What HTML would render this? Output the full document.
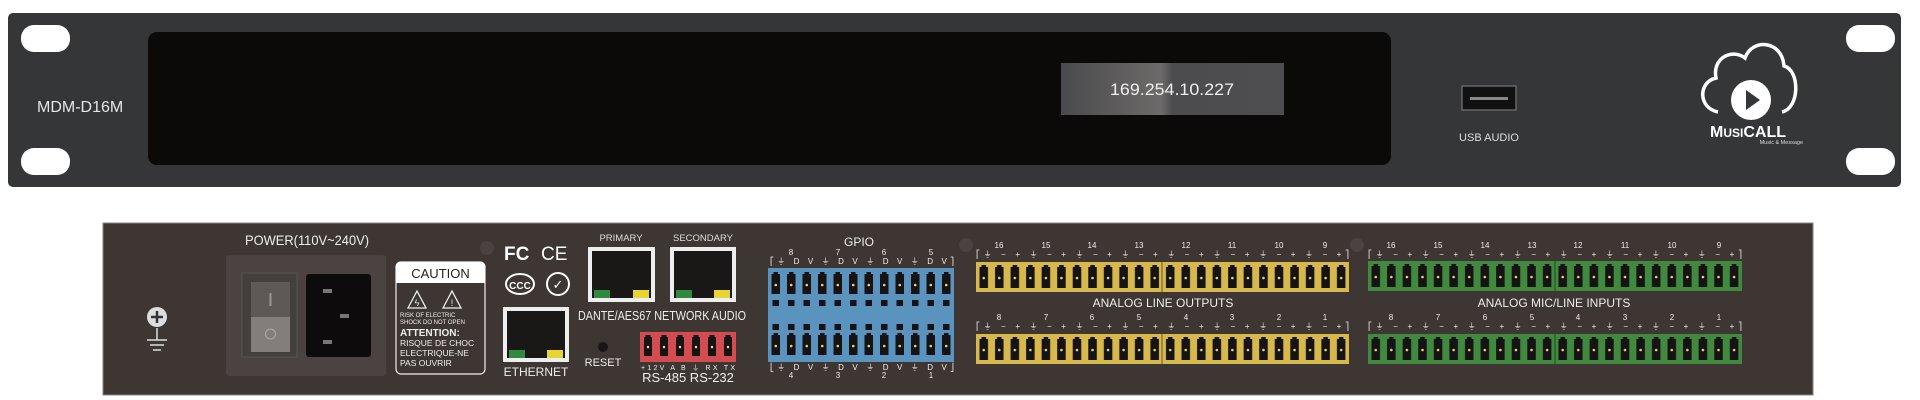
<!DOCTYPE html>
<html><head><meta charset="utf-8"><style>
html,body{margin:0;padding:0;background:#fff;width:1920px;height:400px;overflow:hidden}
svg{display:block}
text{font-family:"Liberation Sans",sans-serif}
</style></head><body>
<svg width="1920" height="400" viewBox="0 0 1920 400" xmlns="http://www.w3.org/2000/svg">
<defs>
<linearGradient id="scr" x1="0" x2="1" y1="0" y2="0">
<stop offset="0" stop-color="#4a4a4c"/><stop offset="0.45" stop-color="#6d6a69"/><stop offset="0.5" stop-color="#4c4c4e"/><stop offset="1" stop-color="#4e4e50"/>
</linearGradient>
<pattern id="pinY" x="976" y="262" width="15.54" height="30" patternUnits="userSpaceOnUse">
<rect x="3.5" y="5" width="8.5" height="21" fill="#151313"/><rect x="5.5" y="3" width="4.5" height="3" fill="#151313"/><circle cx="7.75" cy="16" r="1.3" fill="#e8d27a"/></pattern>
<pattern id="pinY2" x="976" y="334" width="15.54" height="30" patternUnits="userSpaceOnUse">
<rect x="3.5" y="5" width="8.5" height="21" fill="#151313"/><rect x="5.5" y="3" width="4.5" height="3" fill="#151313"/><circle cx="7.75" cy="16" r="1.3" fill="#e8d27a"/></pattern>
<pattern id="pinG" x="1368" y="261" width="15.58" height="30" patternUnits="userSpaceOnUse">
<rect x="3.5" y="5" width="8.5" height="21" fill="#151313"/><rect x="5.5" y="3" width="4.5" height="3" fill="#151313"/><circle cx="7.75" cy="16" r="1.3" fill="#e8d27a"/></pattern>
<pattern id="pinG2" x="1368" y="334" width="15.58" height="30" patternUnits="userSpaceOnUse">
<rect x="3.5" y="5" width="8.5" height="21" fill="#151313"/><rect x="5.5" y="3" width="4.5" height="3" fill="#151313"/><circle cx="7.75" cy="16" r="1.3" fill="#e8d27a"/></pattern>
<pattern id="pinB" x="768" y="268" width="15.5" height="94" patternUnits="userSpaceOnUse">
<rect x="3.5" y="6" width="8.5" height="20" fill="#151313"/><rect x="5.5" y="4" width="4.5" height="3" fill="#151313"/><circle cx="7.75" cy="17" r="1.3" fill="#e8d27a"/>
<rect x="4.5" y="32" width="6.5" height="6" fill="#151313"/><rect x="4.5" y="56" width="6.5" height="6" fill="#151313"/>
<rect x="3.5" y="67" width="8.5" height="20" fill="#151313"/><rect x="5.5" y="65" width="4.5" height="3" fill="#151313"/><circle cx="7.75" cy="78" r="1.3" fill="#e8d27a"/></pattern>
<pattern id="pinR" x="640" y="332" width="16" height="30" patternUnits="userSpaceOnUse">
<rect x="4" y="5" width="8" height="19" fill="#151313"/><rect x="5.5" y="3" width="5" height="3" fill="#151313"/><circle cx="8" cy="15" r="1.3" fill="#e8d27a"/></pattern>
</defs>

<!-- FRONT PANEL -->
<rect x="8" y="13" width="1893" height="174" rx="5" fill="#353637"/>
<rect x="21" y="25" width="49" height="27" rx="13" fill="#fff"/>
<rect x="21" y="148" width="49" height="27" rx="13" fill="#fff"/>
<rect x="1846" y="25" width="49" height="27" rx="13" fill="#fff"/>
<rect x="1846" y="148" width="49" height="27" rx="13" fill="#fff"/>
<text x="37" y="112" font-size="16" fill="#e6e6e6">MDM-D16M</text>
<rect x="148" y="32" width="1243" height="133" rx="9" fill="#0c0a09"/>
<rect x="1061" y="63" width="223" height="52" fill="url(#scr)"/>
<text x="1172" y="95" font-size="17" fill="#eee" text-anchor="middle" textLength="124" lengthAdjust="spacingAndGlyphs">169.254.10.227</text>
<rect x="1462" y="86" width="54" height="24" fill="#111" stroke="#666" stroke-width="1.5"/>
<rect x="1470" y="97" width="38" height="3" fill="#888"/>
<text x="1489" y="141" font-size="11" fill="#ddd" text-anchor="middle">USB AUDIO</text>
<path d="M1718 112 C1698 108 1698 82 1716 78 C1712 58 1732 48 1745 58 C1752 38 1782 40 1784 66 C1800 70 1800 108 1782 112" fill="none" stroke="#fff" stroke-width="3.5"/>
<circle cx="1751" cy="100" r="20" fill="#fff"/>
<path d="M1746 90 L1760 100 L1746 110 Z" fill="#353637"/>
<text x="1710" y="137" font-size="16" font-weight="bold" fill="#fff">M<tspan font-size="12">USI</tspan>CALL</text>
<text x="1803" y="144" font-size="5.5" fill="#ddd" text-anchor="end">Music &amp; Message</text>

<!-- REAR PANEL -->
<rect x="103" y="223" width="1710" height="172" fill="#3d3633" stroke="#8a8582" stroke-width="1"/>
<circle cx="157" cy="317" r="10" fill="#ddd"/>
<path d="M151 317 H163 M157 311 V323" stroke="#333" stroke-width="2.5"/>
<path d="M157 328 V340 M147 340 H167 M150 345 H164 M153 350 H161" stroke="#ddd" stroke-width="1.5"/>
<text x="307" y="245" font-size="14" fill="#eee" text-anchor="middle" textLength="124" lengthAdjust="spacingAndGlyphs">POWER(110V~240V)</text>
<rect x="226" y="255" width="160" height="121" rx="3" fill="#4a4341"/>
<rect x="242" y="273" width="55" height="84" fill="#443e3c" stroke="#555" stroke-width="1"/>
<rect x="251" y="282" width="39" height="35" fill="#5e5856"/>
<rect x="251" y="317" width="39" height="35" fill="#837d7b"/>
<rect x="269.5" y="293" width="2" height="13" fill="#9a9492"/>
<circle cx="270.5" cy="334" r="5" fill="none" stroke="#aaa" stroke-width="1"/>
<rect x="306" y="274" width="65" height="83" rx="3" fill="#0d0b0b"/>
<rect x="323" y="289" width="9" height="4" fill="#777"/>
<rect x="340" y="314" width="9" height="4" fill="#777"/>
<rect x="323" y="340" width="9" height="4" fill="#777"/>
<rect x="396" y="262" width="89" height="112" rx="5" fill="none" stroke="#eee" stroke-width="1.2"/>
<path d="M396 283 V267 Q396 262 401 262 H480 Q485 262 485 267 V283 Z" fill="#fff"/>
<text x="440.5" y="278" font-size="13" fill="#222" text-anchor="middle">CAUTION</text>
<path d="M408 308 L417 291 L426 308 Z M443 308 L452 291 L461 308 Z" fill="none" stroke="#eee" stroke-width="1.3"/>
<text x="417" y="306" font-size="9" fill="#eee" text-anchor="middle">ϟ</text>
<text x="452" y="306" font-size="9" fill="#eee" text-anchor="middle">!</text>
<text x="400" y="317" font-size="6" fill="#eee">RISK OF ELECTRIC</text>
<text x="400" y="324" font-size="6" fill="#eee">SHOCK DO NOT OPEN</text>
<text x="400" y="336" font-size="10" font-weight="bold" fill="#eee">ATTENTION:</text>
<text x="400" y="346" font-size="8.5" fill="#eee">RISQUE DE CHOC</text>
<text x="400" y="356" font-size="8.5" fill="#eee">ELECTRIQUE-NE</text>
<text x="400" y="366" font-size="8.5" fill="#eee">PAS OUVRIR</text>
<circle cx="487" cy="248" r="7" fill="#4a4341"/>
<text x="504" y="260" font-size="19" font-weight="bold" fill="#fff">FC</text>
<text x="541" y="260" font-size="19" fill="#fff">CE</text>
<ellipse cx="520" cy="284" rx="14" ry="10" fill="none" stroke="#fff" stroke-width="2"/>
<text x="520" y="289" font-size="10" font-weight="bold" fill="#fff" text-anchor="middle">CCC</text>
<circle cx="558" cy="284" r="11" fill="none" stroke="#fff" stroke-width="2"/>
<text x="558" y="289" font-size="13" fill="#fff" text-anchor="middle">✓</text>
<text x="621" y="241" font-size="9.5" fill="#ddd" text-anchor="middle">PRIMARY</text>
<text x="703" y="241" font-size="9.5" fill="#ddd" text-anchor="middle">SECONDARY</text>
<rect x="588" y="247" width="67" height="55" fill="#eee"/><rect x="592" y="251" width="59" height="47" fill="#1a1717"/>
<rect x="594" y="290" width="16" height="8" fill="#2d8a3e"/><rect x="633" y="290" width="16" height="8" fill="#e6d632"/>
<rect x="670" y="247" width="66" height="55" fill="#eee"/><rect x="674" y="251" width="58" height="47" fill="#1a1717"/>
<rect x="676" y="290" width="16" height="8" fill="#2d8a3e"/><rect x="714" y="290" width="16" height="8" fill="#e6d632"/>
<text x="578" y="320" font-size="12.5" fill="#eee" textLength="168" lengthAdjust="spacingAndGlyphs">DANTE/AES67 NETWORK AUDIO</text>
<rect x="503" y="307" width="66" height="55" fill="#eee"/><rect x="507" y="311" width="58" height="47" fill="#1a1717"/>
<rect x="509" y="350" width="16" height="8" fill="#2d8a3e"/><rect x="547" y="350" width="16" height="8" fill="#e6d632"/>
<text x="536" y="376" font-size="12" fill="#eee" text-anchor="middle">ETHERNET</text>
<circle cx="603" cy="347" r="5" fill="#1a1616"/>
<text x="603" y="366" font-size="11" fill="#eee" text-anchor="middle">RESET</text>
<rect x="640" y="332" width="96" height="30" fill="#d24c50"/>
<rect x="640" y="332" width="96" height="30" fill="url(#pinR)"/>
<text x="641" y="370" font-size="7" fill="#eee" textLength="94" lengthAdjust="spacing">+12V  A   B   ⏚  RX  TX</text>
<text x="688" y="382" font-size="13" fill="#eee" text-anchor="middle">RS-485 RS-232</text>

<text x="859" y="246" font-size="12" fill="#eee" text-anchor="middle">GPIO</text>
<g font-size="8" fill="#eee" text-anchor="middle">
<text x="791" y="255">8</text><text x="838" y="255">7</text><text x="884" y="255">6</text><text x="931" y="255">5</text>
<text x="791" y="378">4</text><text x="838" y="378">3</text><text x="884" y="378">2</text><text x="931" y="378">1</text>
</g>
<text x="770" y="264" font-size="8" fill="#eee" textLength="184" lengthAdjust="spacing">⎡⏚ D V ⏚ D V ⏚ D V ⏚ D V⎤</text>
<text x="770" y="370" font-size="8" fill="#eee" textLength="184" lengthAdjust="spacing">⎣⏚ D V ⏚ D V ⏚ D V ⏚ D V⎦</text>
<rect x="768" y="268" width="186" height="94" fill="#5b93bf"/>
<rect x="768" y="268" width="186" height="94" fill="url(#pinB)"/>

<circle cx="966" cy="245" r="7" fill="#4a4341"/>
<circle cx="1357" cy="245" r="7" fill="#4a4341"/>
<g font-size="8" fill="#eee" text-anchor="middle">
<text x="999" y="248">16</text><text x="1046" y="248">15</text><text x="1092" y="248">14</text><text x="1139" y="248">13</text>
<text x="1186" y="248">12</text><text x="1232" y="248">11</text><text x="1279" y="248">10</text><text x="1325" y="248">9</text>
<text x="999" y="320">8</text><text x="1046" y="320">7</text><text x="1092" y="320">6</text><text x="1139" y="320">5</text>
<text x="1186" y="320">4</text><text x="1232" y="320">3</text><text x="1279" y="320">2</text><text x="1325" y="320">1</text>
<text x="1391" y="248">16</text><text x="1438" y="248">15</text><text x="1485" y="248">14</text><text x="1532" y="248">13</text>
<text x="1578" y="248">12</text><text x="1625" y="248">11</text><text x="1672" y="248">10</text><text x="1719" y="248">9</text>
<text x="1391" y="320">8</text><text x="1438" y="320">7</text><text x="1485" y="320">6</text><text x="1532" y="320">5</text>
<text x="1578" y="320">4</text><text x="1625" y="320">3</text><text x="1672" y="320">2</text><text x="1719" y="320">1</text>
</g>
<g font-size="8" fill="#eee">
<text x="976" y="257" textLength="373" lengthAdjust="spacing">⎡⏚ − + ⏚ − + ⏚ − + ⏚ − + ⏚ − + ⏚ − + ⏚ − + ⏚ − +⎤</text>
<text x="976" y="329" textLength="373" lengthAdjust="spacing">⎡⏚ − + ⏚ − + ⏚ − + ⏚ − + ⏚ − + ⏚ − + ⏚ − + ⏚ − +⎤</text>
<text x="1368" y="257" textLength="374" lengthAdjust="spacing">⎡⏚ − + ⏚ − + ⏚ − + ⏚ − + ⏚ − + ⏚ − + ⏚ − + ⏚ − +⎤</text>
<text x="1368" y="329" textLength="374" lengthAdjust="spacing">⎡⏚ − + ⏚ − + ⏚ − + ⏚ − + ⏚ − + ⏚ − + ⏚ − + ⏚ − +⎤</text>
</g>
<rect x="976" y="262" width="373" height="30" fill="#d7b84c"/>
<rect x="976" y="262" width="373" height="30" fill="url(#pinY)"/>
<rect x="976" y="334" width="373" height="30" fill="#d7b84c"/>
<rect x="976" y="334" width="373" height="30" fill="url(#pinY2)"/>
<path d="M1162 262 V292 M1162 334 V364" stroke="#6b5a2a" stroke-width="1"/>
<text x="1163" y="307" font-size="12" fill="#eee" text-anchor="middle">ANALOG LINE OUTPUTS</text>

<rect x="1368" y="261" width="374" height="30" fill="#41893f"/>
<rect x="1368" y="261" width="374" height="30" fill="url(#pinG)"/>
<rect x="1368" y="334" width="374" height="30" fill="#41893f"/>
<rect x="1368" y="334" width="374" height="30" fill="url(#pinG2)"/>
<path d="M1555 261 V291 M1555 334 V364" stroke="#234d22" stroke-width="1"/>
<text x="1554" y="307" font-size="12" fill="#eee" text-anchor="middle">ANALOG MIC/LINE INPUTS</text>
</svg>
</body></html>
